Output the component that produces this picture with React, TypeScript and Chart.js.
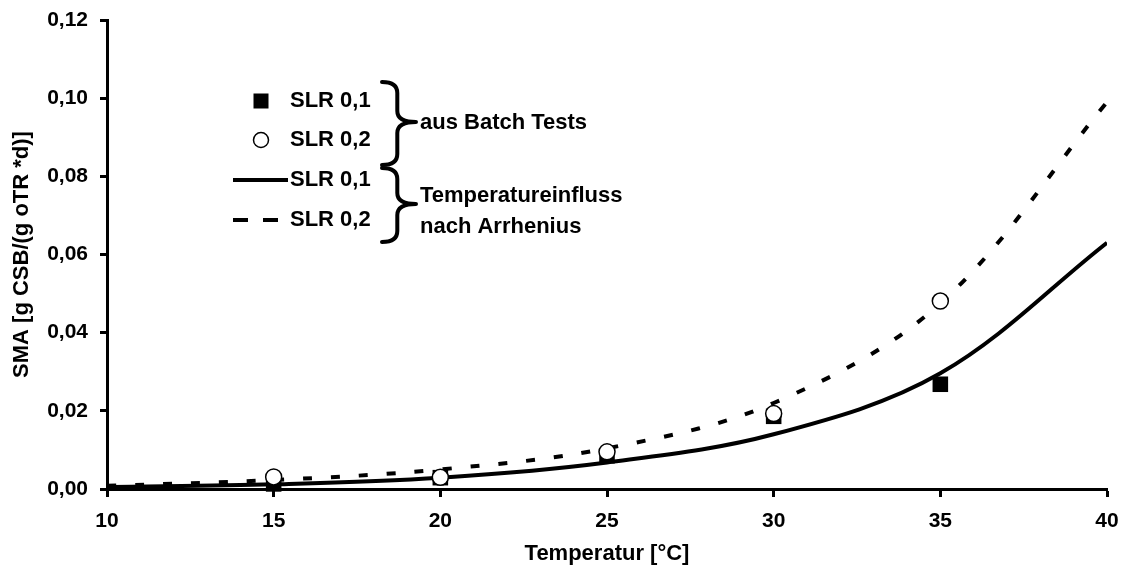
import { useEffect, useRef } from "react";
import { Chart, registerables } from "chart.js";

Chart.register(...registerables);

const FONT = "'Liberation Sans', Arial, Helvetica, sans-serif";

// Temperatures (°C) at which the Arrhenius curves are evaluated
const curveTemps = [10, 15, 20, 25, 30, 35, 40];
// Temperatures of the batch tests
const batchTemps = [15, 20, 25, 30, 35];

// Specific methanogenic activity from batch tests [g CSB/(g oTR*d)]
const batchSlr01 = [0.0013, 0.0029, 0.0085, 0.0186, 0.0268];
const batchSlr02 = [0.0031, 0.003, 0.0095, 0.0193, 0.0481];

// Temperature influence after Arrhenius
const arrheniusSlr01 = [0.0005, 0.0012, 0.0029, 0.0068, 0.014, 0.0296, 0.063];
const arrheniusSlr02 = [0.0008, 0.0023, 0.005, 0.0104, 0.022, 0.0475, 0.099];

const xTicks = [10, 15, 20, 25, 30, 35, 40];
const yTicks = [0, 0.02, 0.04, 0.06, 0.08, 0.1, 0.12];

const legendSeries = ["SLR 0,1", "SLR 0,2", "SLR 0,1", "SLR 0,2"];
const groupBatch = ["aus Batch Tests"];
const groupArrhenius = ["Temperatureinfluss", "nach Arrhenius"];

const xTitle = "Temperatur [°C]";
const yTitle = "SMA [g CSB/(g oTR *d)]";

function drawBrace(
  ctx: CanvasRenderingContext2D,
  x0: number,
  yTop: number,
  yBot: number,
  yTip: number,
  width: number
) {
  const xs = x0 + width * 0.45;
  const xt = x0 + width;
  const r = 11;
  ctx.beginPath();
  ctx.moveTo(x0, yTop);
  ctx.quadraticCurveTo(xs, yTop, xs, yTop + r);
  ctx.lineTo(xs, yTip - r);
  ctx.quadraticCurveTo(xs, yTip, xt, yTip);
  ctx.moveTo(xt, yTip);
  ctx.quadraticCurveTo(xs, yTip, xs, yTip + r);
  ctx.lineTo(xs, yBot - r);
  ctx.quadraticCurveTo(xs, yBot, x0, yBot);
  ctx.stroke();
}

const legendPlugin = {
  id: "bracedLegend",
  afterDraw(chart: Chart) {
    const ctx = chart.ctx;
    ctx.save();
    ctx.fillStyle = "#000";
    ctx.strokeStyle = "#000";
    ctx.font = `bold 22px ${FONT}`;
    ctx.textBaseline = "middle";
    ctx.textAlign = "left";

    const rowY = [101, 140, 180, 220];
    const textX = 290;
    const markX = 261;

    legendSeries.forEach((label, i) => {
      ctx.fillText(label, textX, rowY[i]);
    });

    // filled square
    ctx.fillRect(markX - 7.5, rowY[0] - 7.5, 15, 15);
    // open circle
    ctx.beginPath();
    ctx.arc(markX, rowY[1], 7.5, 0, Math.PI * 2);
    ctx.fillStyle = "#fff";
    ctx.fill();
    ctx.lineWidth = 1.5;
    ctx.stroke();
    ctx.fillStyle = "#000";
    // solid line sample
    ctx.lineWidth = 4;
    ctx.lineCap = "butt";
    ctx.beginPath();
    ctx.moveTo(233, rowY[2]);
    ctx.lineTo(288, rowY[2]);
    ctx.stroke();
    // dashed line sample
    ctx.setLineDash([15, 15]);
    ctx.beginPath();
    ctx.moveTo(233, rowY[3]);
    ctx.lineTo(280, rowY[3]);
    ctx.stroke();
    ctx.setLineDash([]);

    // braces
    ctx.lineWidth = 4;
    ctx.lineCap = "round";
    drawBrace(ctx, 382, 82, 165, 122, 34);
    drawBrace(ctx, 382, 168, 242, 204, 34);

    ctx.fillText(groupBatch[0], 420, 123);
    ctx.fillText(groupArrhenius[0], 420, 196);
    ctx.fillText(groupArrhenius[1], 420, 227);
    ctx.restore();
  },
};

export default function App() {
  const ref = useRef<HTMLCanvasElement>(null);

  useEffect(() => {
    const canvas = ref.current;
    if (!canvas) return;

    const tickFont = { family: FONT, size: 21, weight: "bold" as const };

    const chart = new Chart(canvas, {
      type: "scatter",
      data: {
        datasets: [
          {
            label: "SLR 0,2 (Batch)",
            data: batchTemps.map((t, i) => ({ x: t, y: batchSlr02[i] })),
            showLine: false,
            pointStyle: "circle",
            pointRadius: 8,
            pointBackgroundColor: "#fff",
            pointBorderColor: "#000",
            pointBorderWidth: 1.5,
            clip: false,
          },
          {
            label: "SLR 0,1 (Batch)",
            data: batchTemps.map((t, i) => ({ x: t, y: batchSlr01[i] })),
            showLine: false,
            pointStyle: "rect",
            pointRadius: 11,
            pointBackgroundColor: "#000",
            pointBorderColor: "#000",
            pointBorderWidth: 0,
            clip: false,
          },
          {
            label: "SLR 0,2 (Arrhenius)",
            data: curveTemps.map((t, i) => ({ x: t, y: arrheniusSlr02[i] })),
            showLine: true,
            borderColor: "#000",
            borderWidth: 4,
            borderDash: [9, 19],
            borderCapStyle: "butt",
            pointRadius: 0,
            tension: 0.35,
            fill: false,
          },
          {
            label: "SLR 0,1 (Arrhenius)",
            data: curveTemps.map((t, i) => ({ x: t, y: arrheniusSlr01[i] })),
            showLine: true,
            borderColor: "#000",
            borderWidth: 4,
            pointRadius: 0,
            tension: 0.35,
            fill: false,
          },
        ],
      },
      options: {
        responsive: false,
        animation: false,
        layout: { padding: { top: 20, right: 18, left: 0, bottom: 0 } },
        plugins: {
          legend: { display: false },
          tooltip: { enabled: false },
        },
        scales: {
          x: {
            type: "linear",
            min: 10,
            max: 40,
            afterBuildTicks: (s: any) => {
              s.ticks = xTicks.map((v) => ({ value: v }));
            },
            afterFit: (s: any) => {
              s.height = 85;
              s.paddingLeft = 0;
              s.paddingRight = 0;
            },
            ticks: {
              font: tickFont,
              color: "#000",
              padding: 12,
              maxRotation: 0,
              autoSkip: false,
              callback: (v: any) => String(v),
            },
            grid: {
              drawOnChartArea: false,
              drawTicks: true,
              tickLength: 8,
              tickWidth: 3,
              tickColor: "#000",
            },
            border: { display: true, color: "#000", width: 3 },
            title: {
              display: true,
              text: xTitle,
              color: "#000",
              font: { family: FONT, size: 22, weight: "bold" },
              padding: { top: 0, bottom: 7 },
            },
          },
          y: {
            type: "linear",
            min: 0,
            max: 0.12,
            afterBuildTicks: (s: any) => {
              s.ticks = yTicks.map((v) => ({ value: v }));
            },
            afterFit: (s: any) => {
              s.width = 107;
              s.paddingTop = 0;
              s.paddingBottom = 0;
            },
            ticks: {
              font: tickFont,
              color: "#000",
              padding: 12,
              autoSkip: false,
              callback: (v: any) => Number(v).toFixed(2).replace(".", ","),
            },
            grid: {
              drawOnChartArea: false,
              drawTicks: true,
              tickLength: 7,
              tickWidth: 3,
              tickColor: "#000",
            },
            border: { display: true, color: "#000", width: 3 },
            title: {
              display: true,
              text: yTitle,
              color: "#000",
              font: { family: FONT, size: 22, weight: "bold" },
              padding: { top: 9, bottom: 0 },
            },
          },
        },
      },
      plugins: [legendPlugin],
    });

    return () => chart.destroy();
  }, []);

  return (
    <div
      style={{
        position: "fixed",
        left: 0,
        top: 0,
        width: 1125,
        height: 574,
        background: "#fff",
      }}
    >
      <canvas ref={ref} width={1125} height={574} />
    </div>
  );
}
